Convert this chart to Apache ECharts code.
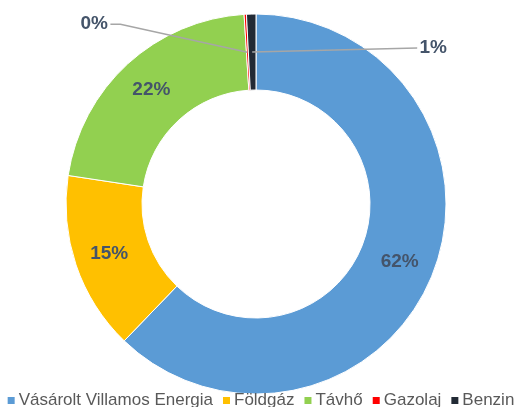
<!DOCTYPE html>
<html>
<head>
<meta charset="utf-8">
<script src="https://cdn.jsdelivr.net/npm/echarts@6/dist/echarts.min.js"></script>
<style>html,body{margin:0;padding:0;background:#fff;}#c{width:520px;height:407px;}</style>
</head>
<body>
<div id="c"></div>
<script>
const categories = ['Vásárolt Villamos Energia', 'Földgáz', 'Távhő', 'Gazolaj', 'Benzin'];
const values = [62.2, 15.2, 21.6, 0.2, 0.8];
const labels = ['62%', '15%', '22%', '0%', '1%'];
const colors = ['#5B9BD5', '#FFC000', '#92D050', '#FF0000', '#222A35'];

const chart = echarts.init(document.getElementById('c'), null, {renderer: 'canvas'});
const font = "'Liberation Sans', Arial, sans-serif";

const data = categories.map((name, i) => {
  const small = values[i] < 2;
  return {
    name: name,
    value: values[i],
    itemStyle: {color: colors[i]},
    label: {
      show: true,
      position: small ? 'outside' : 'inside',
      formatter: labels[i]
    },
    labelLine: {show: false}
  };
});

chart.setOption({
  animation: false,
  color: colors,
  legend: {
    top: 392,
    left: 'center',
    width: 518,
    padding: 0,
    icon: 'rect',
    itemWidth: 9,
    itemHeight: 9,
    itemGap: 8,
    textStyle: {fontFamily: font, fontSize: 17, color: '#595959', padding: [0, 0, 0, -2]},
    data: categories
  },
  series: [{
    type: 'pie',
    center: [256, 204],
    radius: [114, 190],
    startAngle: 90,
    clockwise: true,
    avoidLabelOverlap: false,
    itemStyle: {borderColor: '#ffffff', borderWidth: 1},
    label: {fontFamily: font, fontSize: 19, fontWeight: 'bold', color: '#44546A'},
    emphasis: {disabled: true},
    labelLayout: function (p) {
      if (p.dataIndex === 3) {
        const cx = p.rect.x + p.rect.width / 2, cy = p.rect.y + p.rect.height / 2;
        return {x: cx - 153, y: cy - 28, align: 'center', verticalAlign: 'middle'};
      }
      if (p.dataIndex === 4) {
        const cx = p.rect.x + p.rect.width / 2, cy = p.rect.y + p.rect.height / 2;
        return {x: cx + 182, y: cy - 4, align: 'center', verticalAlign: 'middle'};
      }
      return {};
    },
    data: data
  }]
});

// leader lines from the middle of the ring of the small slices
function midPoint(idx) {
  const d = chart.getModel().getSeriesByIndex(0).getData();
  const l = d.getItemLayout(idx);
  const a = (l.startAngle + l.endAngle) / 2;
  const rm = (l.r + l.r0) / 2;
  return [l.cx + rm * Math.cos(a), l.cy + rm * Math.sin(a)];
}
const p3 = midPoint(3), p4 = midPoint(4);
const lineStyle = {stroke: '#A6A6A6', lineWidth: 1.5, fill: null};
chart.setOption({
  graphic: [
    {type: 'polyline', z: 100, shape: {points: [p3, [p3[0] - 127, p3[1] - 28], [p3[0] - 137, p3[1] - 28]]}, style: lineStyle, silent: true},
    {type: 'polyline', z: 100, shape: {points: [p4, [p4[0] + 165, p4[1] - 4]]}, style: lineStyle, silent: true}
  ]
});
</script>
</body>
</html>
